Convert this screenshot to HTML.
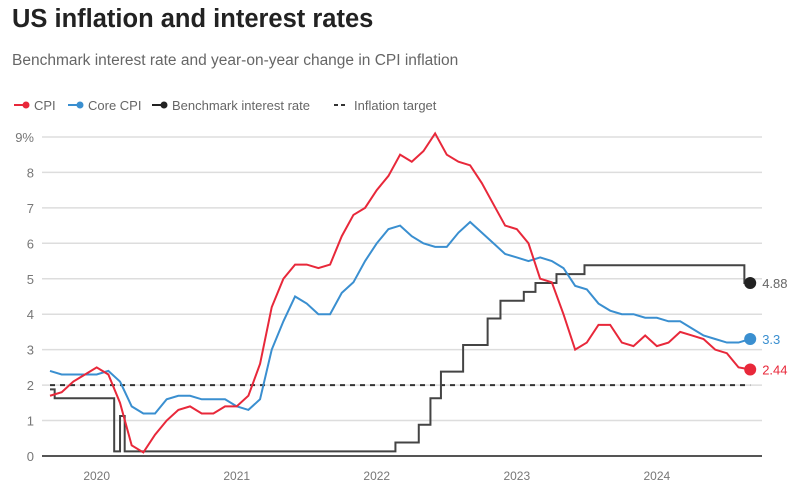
<!DOCTYPE html>
<html><head><meta charset="utf-8"><style>
body{margin:0;background:#fff;font-family:"Liberation Sans",sans-serif;}
#wrap{position:relative;width:800px;height:496px;overflow:hidden;}
.t{position:absolute;white-space:nowrap;}
</style></head><body>
<div id="wrap">
<div class="t" style="left:12px;top:5px;font-size:25.5px;font-weight:bold;color:#222">US inflation and interest rates</div>
<div class="t" style="left:12px;top:52px;font-size:15.5px;color:#666">Benchmark interest rate and year-on-year change in CPI inflation</div>
<svg id="svg" width="800" height="496" style="position:absolute;left:0;top:0"></svg>
</div>
<script>
const categoriesStart = "2019-09";
const cpiValues = [1.7,1.8,2.1,2.3,2.5,2.3,1.5,0.3,0.1,0.6,1.0,1.3,1.4,1.2,1.2,1.4,1.4,1.7,2.6,4.2,5.0,5.4,5.4,5.3,5.4,6.2,6.8,7.0,7.5,7.9,8.5,8.3,8.6,9.1,8.5,8.3,8.2,7.7,7.1,6.5,6.4,6.0,5.0,4.9,4.0,3.0,3.2,3.7,3.7,3.2,3.1,3.4,3.1,3.2,3.5,3.4,3.3,3.0,2.9,2.5,2.44];
const coreValues = [2.4,2.3,2.3,2.3,2.3,2.4,2.1,1.4,1.2,1.2,1.6,1.7,1.7,1.6,1.6,1.6,1.4,1.3,1.6,3.0,3.8,4.5,4.3,4.0,4.0,4.6,4.9,5.5,6.0,6.4,6.5,6.2,6.0,5.9,5.9,6.3,6.6,6.3,6.0,5.7,5.6,5.5,5.6,5.5,5.3,4.8,4.7,4.3,4.1,4.0,4.0,3.9,3.9,3.8,3.8,3.6,3.4,3.3,3.2,3.2,3.3];
const rateDates = [0,0.4,5.5,6.0,6.4,29.6,31.6,32.6,33.5,35.4,37.5,38.6,40.6,41.6,43.4,45.8,59.5,60];
const rateValues = [1.88,1.63,0.13,1.13,0.13,0.38,0.88,1.63,2.38,3.13,3.88,4.38,4.63,4.88,5.13,5.38,4.88,4.88];
const yTicks = [0,1,2,3,4,5,6,7,8,9];
const yTickLabels = ["0","1","2","3","4","5","6","7","8","9%"];
const xYears = ["2020","2021","2022","2023","2024"];
const xYearMonths = [4,16,28,40,52];
const targetValue = 2;

const NS="http://www.w3.org/2000/svg", svg=document.getElementById('svg');
const X = m => 50 + m*11.67;
const Y = v => 456 - v*35.45;
function mk(tag, attrs, parent){const e=document.createElementNS(NS,tag);for(const k in attrs)e.setAttribute(k,attrs[k]);(parent||svg).appendChild(e);return e;}

yTicks.forEach((v,i)=>{
  const g=mk('line',{x1:42,x2:762,y1:Y(v),y2:Y(v),stroke:v===0?'#555':'#ddd','stroke-width':v===0?2:1.5});
  
  
  const t=mk('text',{x:34,y:Y(v)+5,'text-anchor':'end','font-size':13,fill:'#777','font-family':'Liberation Sans'});
  t.textContent=yTickLabels[i];
  
  
});
xYears.forEach((y,i)=>{
  const t=mk('text',{x:X(xYearMonths[i]),y:480,'text-anchor':'middle','font-size':12,fill:'#777','font-family':'Liberation Sans'});
  t.textContent=y;
  
  
});
const tl=mk('line',{x1:X(0),x2:X(60),y1:Y(targetValue),y2:Y(targetValue),stroke:'#333','stroke-width':2,'stroke-dasharray':'5,5'});



let rp='';
rateDates.forEach((d,i)=>{ if(i===0) rp+=`M${X(d)},${Y(rateValues[i])}`; else rp+=`H${X(d)}V${Y(rateValues[i])}`; });
const rl=mk('path',{d:rp,fill:'none',stroke:'#444','stroke-width':2});



function line(vals,color,name){
  const p=mk('path',{d:vals.map((v,i)=>(i?'L':'M')+X(i)+','+Y(v)).join(''),fill:'none',stroke:color,'stroke-width':2});
  
  
}
line(coreValues,'#3a8fd0','core-cpi-line');
line(cpiValues,'#e8283a','cpi-line');

function endDot(v,color,label,name,tc){
  const c=mk('circle',{cx:X(60),cy:Y(v),r:6,fill:color});
  
  
  const t=mk('text',{x:X(60)+12,y:Y(v)+5,'font-size':13,fill:tc,'font-family':'Liberation Sans'});
  t.textContent=label;
  
  
}
endDot(rateValues[rateValues.length-1],'#222','4.88','interest-rate','#666');
endDot(coreValues[coreValues.length-1],'#3a8fd0','3.3','core-cpi','#3a8fd0');
endDot(cpiValues[cpiValues.length-1],'#e8283a','2.44','cpi','#e8283a');

const legend=[['CPI','#e8283a',false,14],['Core CPI','#3a8fd0',false,68],['Benchmark interest rate','#222',false,152],['Inflation target','#333',true,334]];
legend.forEach(([lab,col,dash,x])=>{
  const g=mk('g',{});
  
  
  if(dash){mk('line',{x1:x,x2:x+14,y1:105,y2:105,stroke:col,'stroke-width':2,'stroke-dasharray':'4,3'},g);}
  else{mk('line',{x1:x,x2:x+12,y1:105,y2:105,stroke:col,'stroke-width':2},g);mk('circle',{cx:x+12,cy:105,r:3.5,fill:col},g);}
  const t=mk('text',{x:x+20,y:110,'font-size':13,fill:'#666','font-family':'Liberation Sans'},g);
  t.textContent=lab;
});
</script>
</body></html>
